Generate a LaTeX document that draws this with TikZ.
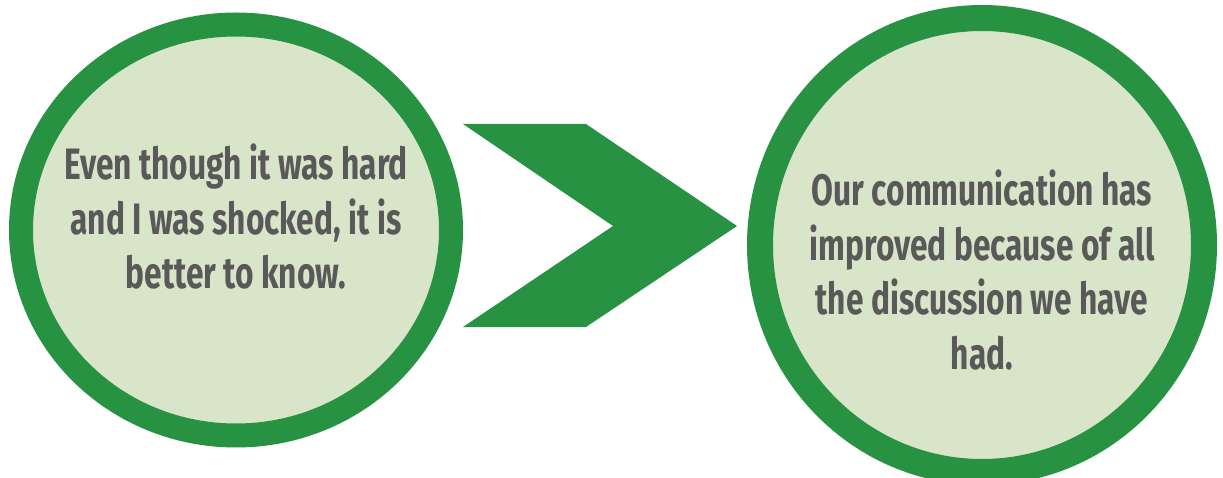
\documentclass[tikz,border=0pt]{standalone}
\usepackage{xcolor}
\usepackage{fontspec}
\setmainfont[FakeStretch=0.72]{Fira Sans}
\usepackage{tikz}
\usetikzlibrary{positioning}
\definecolor{ringgreen}{RGB}{39,147,66}
\definecolor{paleleaf}{RGB}{217,229,201}
\definecolor{quotegray}{RGB}{89,89,89}

\begin{document}
\begin{tikzpicture}[y=-1pt,x=1pt]
	\tikzset{ring/.style={draw=ringgreen, fill=paleleaf},
		quote/.style={align=center, inner sep=0pt, text=quotegray, font=\bfseries\fontsize{44}{54.5}\selectfont}}
	\useasboundingbox (0,0) rectangle (1223,478);

	\draw[ring, line width=24pt] (236,230) ellipse [x radius=215, y radius=205.5];
	\draw[ring, line width=26pt] (982,245) ellipse [x radius=222, y radius=227];

	\fill[ringgreen] (463,124) -- (586,124) -- (737,226) -- (586,327) -- (463,327) -- (613,226) -- cycle;

	\node[quote] (before) at (236,217) {Even though it was hard\\and I was shocked, it is\\better to know.};
	\node[quote] (after) at (982,270) {Our communication has\\improved because of all\\the discussion we have\\had.};
\end{tikzpicture}
\end{document}
